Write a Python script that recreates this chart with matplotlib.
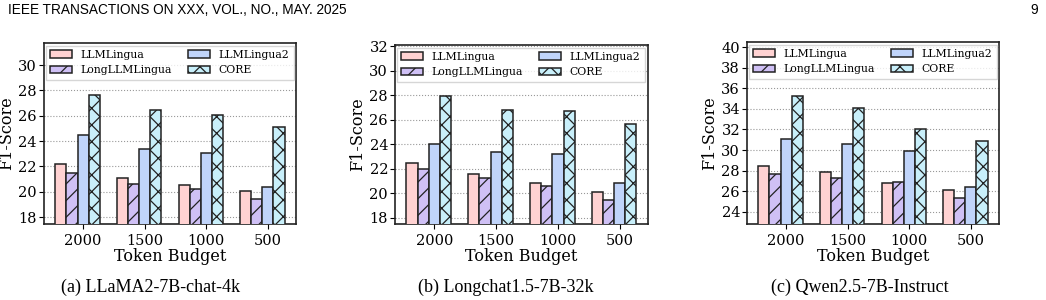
import numpy as np
import matplotlib
matplotlib.use("Agg")
import matplotlib.pyplot as plt
from matplotlib.ticker import MultipleLocator

OUTPUT_PNG = "out.png"

budgets = ["2000", "1500", "1000", "500"]
methods = ["LLMLingua", "LongLLMLingua", "LLMLingua2", "CORE"]

# F1 scores per model, one list per method (order of budgets above)
llama_scores = {
    "LLMLingua": [22.2, 21.1, 20.55, 20.1],
    "LongLLMLingua": [21.45, 20.6, 20.2, 19.4],
    "LLMLingua2": [24.47, 23.35, 23.1, 20.4],
    "CORE": [27.6, 26.45, 26.1, 25.14],
}
longchat_scores = {
    "LLMLingua": [22.47, 21.55, 20.81, 20.08],
    "LongLLMLingua": [21.98, 21.25, 20.6, 19.45],
    "LLMLingua2": [24.06, 23.36, 23.2, 20.87],
    "CORE": [27.92, 26.8, 26.69, 25.66],
}
qwen_scores = {
    "LLMLingua": [28.44, 27.86, 26.77, 26.06],
    "LongLLMLingua": [27.67, 27.28, 26.9, 25.32],
    "LLMLingua2": [31.05, 30.6, 29.86, 26.41],
    "CORE": [35.24, 34.14, 32.02, 30.86],
}

captions = ["(a) LLaMA2-7B-chat-4k", "(b) Longchat1.5-7B-32k", "(c) Qwen2.5-7B-Instruct"]

colors = ["#FFD2D2", "#CFC0F5", "#C0D4FA", "#C8EFFA"]
hatches = ["", "//", "", "xx"]


def draw_panel(ax, scores):
    x = np.arange(len(budgets))
    w = 0.18
    for i, m in enumerate(methods):
        ax.bar(x + (i - 2) * w, scores[m], w, color=colors[i], hatch=hatches[i],
               edgecolor="#222222", linewidth=1.1, label=m, zorder=3)
    allv = np.concatenate([scores[m] for m in methods])
    ax.set_ylim(allv.min() * 0.9, allv.max() * 1.15)
    ax.yaxis.set_major_locator(MultipleLocator(2))
    ax.set_xticks(x)
    ax.set_xticklabels(budgets, fontsize=10.5)
    ax.tick_params(axis="y", labelsize=10.5, pad=1.5)
    ax.set_xlabel("Token Budget", fontsize=11.5, labelpad=0)
    ax.set_ylabel("F1-Score", fontsize=11.5, labelpad=2)
    ax.yaxis.grid(True, linestyle=":", color="#999999", linewidth=0.8, zorder=0)
    ax.set_axisbelow(True)
    for s in ax.spines.values():
        s.set_linewidth(1.2)
        s.set_color("#222222")
    ax.legend(ncol=2, loc="upper left", bbox_to_anchor=(0.008, 0.985),
              fontsize=7.8, frameon=True, borderaxespad=0, columnspacing=1.5,
              handletextpad=0.8, labelspacing=0.5, fancybox=False,
              edgecolor="#cccccc")


def main():
    plt.rcParams["font.family"] = "DejaVu Serif"
    plt.rcParams["hatch.linewidth"] = 0.9
    fig = plt.figure(figsize=(10.46, 3.0), dpi=100)

    boxes = [
        [0.042, 0.2533, 0.241, 0.6033],
        [0.3776, 0.2533, 0.2419, 0.5967],
        [0.7141, 0.2533, 0.241, 0.6067],
    ]
    for box, scores, cap, cx in zip(boxes, [llama_scores, longchat_scores, qwen_scores],
                                    captions, [151, 506, 860]):
        ax = fig.add_axes(box)
        draw_panel(ax, scores)
        fig.text(cx / 1046, 1 - 287 / 300, cap, ha="center", va="center",
                 fontsize=13, family="Liberation Serif")

    fig.text(8 / 1046, 1 - 10 / 300, "IEEE TRANSACTIONS ON XXX, VOL., NO., MAY. 2025",
             ha="left", va="center", fontsize=9.8, family="Liberation Sans")
    fig.text(1038 / 1046, 1 - 10 / 300, "9", ha="right", va="center",
             fontsize=9.8, family="Liberation Sans")

    fig.savefig(OUTPUT_PNG, dpi=100)


if __name__ == "__main__":
    main()
